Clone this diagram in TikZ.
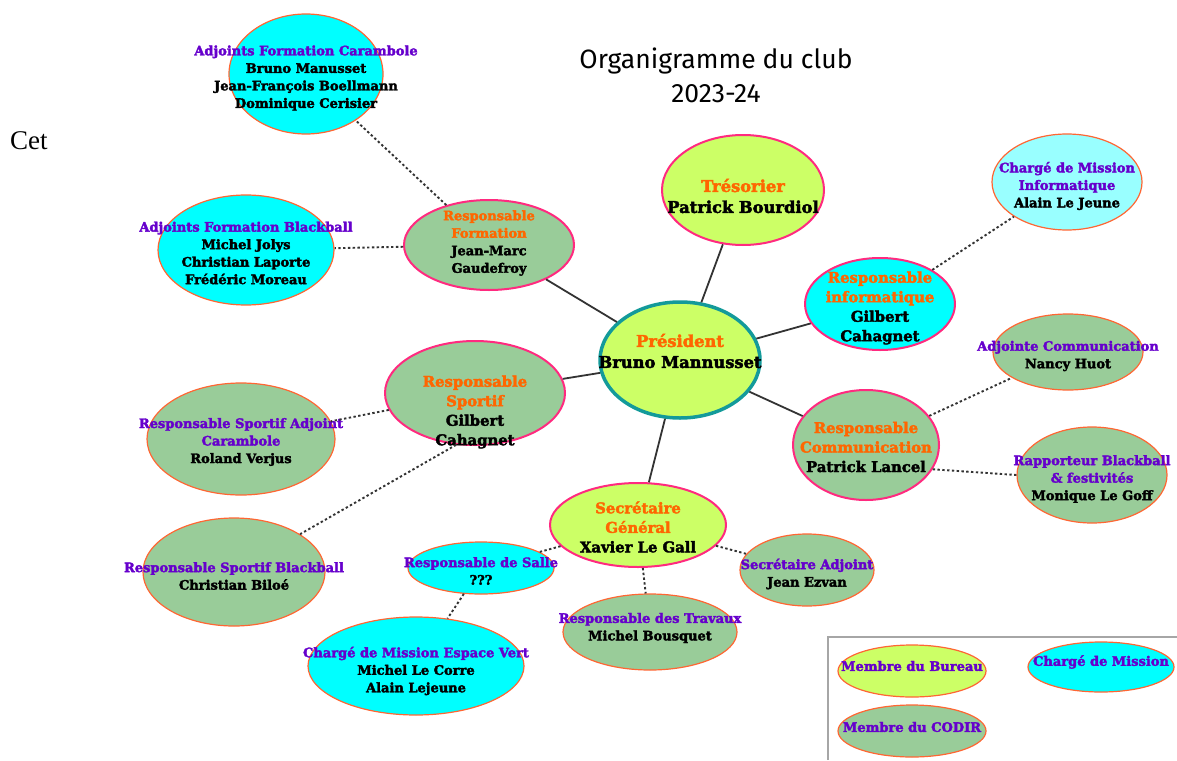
\documentclass[tikz,border=0pt]{standalone}
\usepackage{fontspec}
\setmainfont{DejaVu Serif}
\newfontfamily\heavy{DejaVu Serif Bold}[FakeBold=2.5]
\newfontfamily\titlefont{Fira Sans}
\newfontfamily\pagefont{Liberation Serif}
\usetikzlibrary{shapes.geometric}

\definecolor{bureaufill}{HTML}{CCFF66}
\definecolor{codirfill}{HTML}{99CC99}
\definecolor{missionfill}{HTML}{00FFFF}
\definecolor{paleblue}{HTML}{99FFFF}
\definecolor{mainrim}{HTML}{FF2A7F}
\definecolor{subrim}{HTML}{FF6633}
\definecolor{presrim}{HTML}{139A9A}
\definecolor{roletext}{HTML}{FF6600}
\definecolor{helptext}{HTML}{6600CC}

\newcommand{\role}[1]{\textcolor{roletext}{#1}}
\newcommand{\help}[1]{\textcolor{helptext}{#1}}

\begin{document}
\begin{tikzpicture}[x=1pt,y=-1pt,
    bubble/.style={ellipse, inner sep=0pt, draw=subrim, line width=1.2pt},
    chief/.style={draw=mainrim, line width=2pt},
    smalltxt/.style={font=\heavy\fontsize{13}{17.5}\selectfont, align=center, inner sep=0pt},
    midtxt/.style={font=\heavy\fontsize{14.8}{19.5}\selectfont, align=center, inner sep=0pt},
    bigtxt/.style={font=\heavy\fontsize{16.3}{21}\selectfont, align=center, inner sep=0pt},
    link/.style={draw=black!80, line width=1.8pt},
    sublink/.style={draw=black!80, line width=1.9pt, dash pattern=on 2.4pt off 2.4pt}
]
    \useasboundingbox (0,0) rectangle (1177,760);

    % Title
    \node[font=\titlefont\fontsize{26.5}{34}\selectfont, align=center] (title) at (716,75) {Organigramme du club\\2023-24};
    \node[font=\pagefont\fontsize{27}{30}\selectfont, anchor=west, inner sep=0pt] (cet) at (10,141) {Cet};

    % Bureau
    \node[bubble, chief, fill=bureaufill, draw=presrim, line width=3.5pt, minimum width=160, minimum height=116] (pres) at (680,360) {};
    \node[bigtxt] (presT) at (680,351) {\role{Président}\\Bruno Mannusset};
    \node[bubble, chief, fill=bureaufill, minimum width=162, minimum height=110] (treso) at (743,190) {};
    \node[bigtxt] (tresoT) at (743,196) {\role{Trésorier}\\Patrick Bourdiol};
    \node[bubble, chief, fill=bureaufill, minimum width=176, minimum height=84] (secg) at (638,525) {};
    \node[midtxt] (secgT) at (638,527) {\role{Secrétaire}\\\role{Général}\\Xavier Le Gall};

    % CODIR
    \node[bubble, chief, fill=codirfill, minimum width=170, minimum height=90] (form) at (489,245) {};
    \node[smalltxt] (formT) at (489,243) {\role{Responsable}\\\role{Formation}\\Jean-Marc\\Gaudefroy};
    \node[bubble, chief, fill=missionfill, minimum width=150, minimum height=92] (rinfo) at (880,304) {};
    \node[midtxt] (rinfoT) at (880,308) {\role{Responsable}\\\role{informatique}\\Gilbert\\Cahagnet};
    \node[bubble, chief, fill=codirfill, minimum width=146, minimum height=110] (rcom) at (866,445) {};
    \node[midtxt] (rcomT) at (866,447) {\role{Responsable}\\\role{Communication}\\Patrick Lancel};
    \node[bubble, chief, fill=codirfill, minimum width=180, minimum height=104] (rsport) at (475,393) {};
    \node[midtxt] (rsportT) at (475,412) {\role{Responsable}\\\role{Sportif}\\Gilbert\\Cahagnet};

    % Adjoints et missions
    \node[bubble, fill=missionfill, minimum width=154, minimum height=120] (caram) at (306,74) {};
    \node[smalltxt] (caramT) at (306,78) {\help{Adjoints Formation Carambole}\\Bruno Manusset\\Jean-François Boellmann\\Dominique Cerisier};
    \node[bubble, fill=missionfill, minimum width=176, minimum height=110] (blackb) at (246,250) {};
    \node[smalltxt] (blackbT) at (246,253) {\help{Adjoints Formation Blackball}\\Michel Jolys\\Christian Laporte\\Frédéric Moreau};
    \node[bubble, fill=paleblue, minimum width=150, minimum height=96] (cminfo) at (1067,182) {};
    \node[smalltxt] (cminfoT) at (1067,186) {\help{Chargé de Mission}\\\help{Informatique}\\Alain Le Jeune};
    \node[bubble, fill=codirfill, minimum width=150, minimum height=76] (adjcom) at (1068,352) {};
    \node[smalltxt] (adjcomT) at (1068,356) {\help{Adjointe Communication}\\Nancy Huot};
    \node[bubble, fill=codirfill, minimum width=150, minimum height=96] (rapp) at (1092,475) {};
    \node[smalltxt] (rappT) at (1092,479) {\help{Rapporteur Blackball}\\\help{\& festivités}\\Monique Le Goff};
    \node[bubble, fill=codirfill, minimum width=188, minimum height=112] (sadjc) at (241,439) {};
    \node[smalltxt] (sadjcT) at (241,442) {\help{Responsable Sportif Adjoint}\\\help{Carambole}\\Roland Verjus};
    \node[bubble, fill=codirfill, minimum width=182, minimum height=108] (sblack) at (234,572) {};
    \node[smalltxt] (sblackT) at (234,576) {\help{Responsable Sportif Blackball}\\Christian Biloé};
    \node[bubble, fill=missionfill, minimum width=146, minimum height=52] (salle) at (481,568) {};
    \node[smalltxt] (salleT) at (481,571) {\help{Responsable de Salle}\\???};
    \node[bubble, fill=missionfill, minimum width=216, minimum height=98] (evert) at (416,666) {};
    \node[smalltxt] (evertT) at (416,671) {\help{Chargé de Mission Espace Vert}\\Michel Le Corre\\Alain Lejeune};
    \node[bubble, fill=codirfill, minimum width=174, minimum height=76] (trav) at (650,632) {};
    \node[smalltxt] (travT) at (650,628) {\help{Responsable des Travaux}\\Michel Bousquet};
    \node[bubble, fill=codirfill, minimum width=134, minimum height=72] (sadj) at (807,570) {};
    \node[smalltxt] (sadjT) at (807,574) {\help{Secrétaire Adjoint}\\Jean Ezvan};

    % Links from the president
    \draw[link] (pres) -- (form);
    \draw[link] (pres) -- (treso);
    \draw[link] (pres) -- (rinfo);
    \draw[link] (pres) -- (rsport);
    \draw[link] (pres) -- (secg);
    \draw[link] (pres) -- (rcom);

    % Dotted links
    \draw[sublink] (form) -- (caram);
    \draw[sublink] (form) -- (blackb);
    \draw[sublink] (rinfo) -- (cminfo);
    \draw[sublink] (rcom) -- (adjcom);
    \draw[sublink] (rcom.-20) -- (rapp.west);
    \draw[sublink] (rsport) -- (sadjc);
    \draw[sublink] (rsport.-110) -- (sblack);
    \draw[sublink] (secg) -- (salle);
    \draw[sublink] (secg) -- (trav);
    \draw[sublink] (secg) -- (sadj);
    \draw[sublink] (salle) -- (evert);

    % Legend
    \draw[black!35, line width=1.5pt] (828,760) |- (1177,637);
    \node[bubble, fill=bureaufill, minimum width=148, minimum height=52] (lbur) at (912,671) {};
    \node[smalltxt] (lburT) at (912,666) {\help{Membre du Bureau}};
    \node[bubble, fill=codirfill, minimum width=148, minimum height=52] (lcod) at (912,731) {};
    \node[smalltxt] (lcodT) at (912,727) {\help{Membre du CODIR}};
    \node[bubble, fill=missionfill, minimum width=146, minimum height=50] (lmis) at (1101,667) {};
    \node[smalltxt] (lmisT) at (1101,662) {\help{Chargé de Mission}};
\end{tikzpicture}
\end{document}
